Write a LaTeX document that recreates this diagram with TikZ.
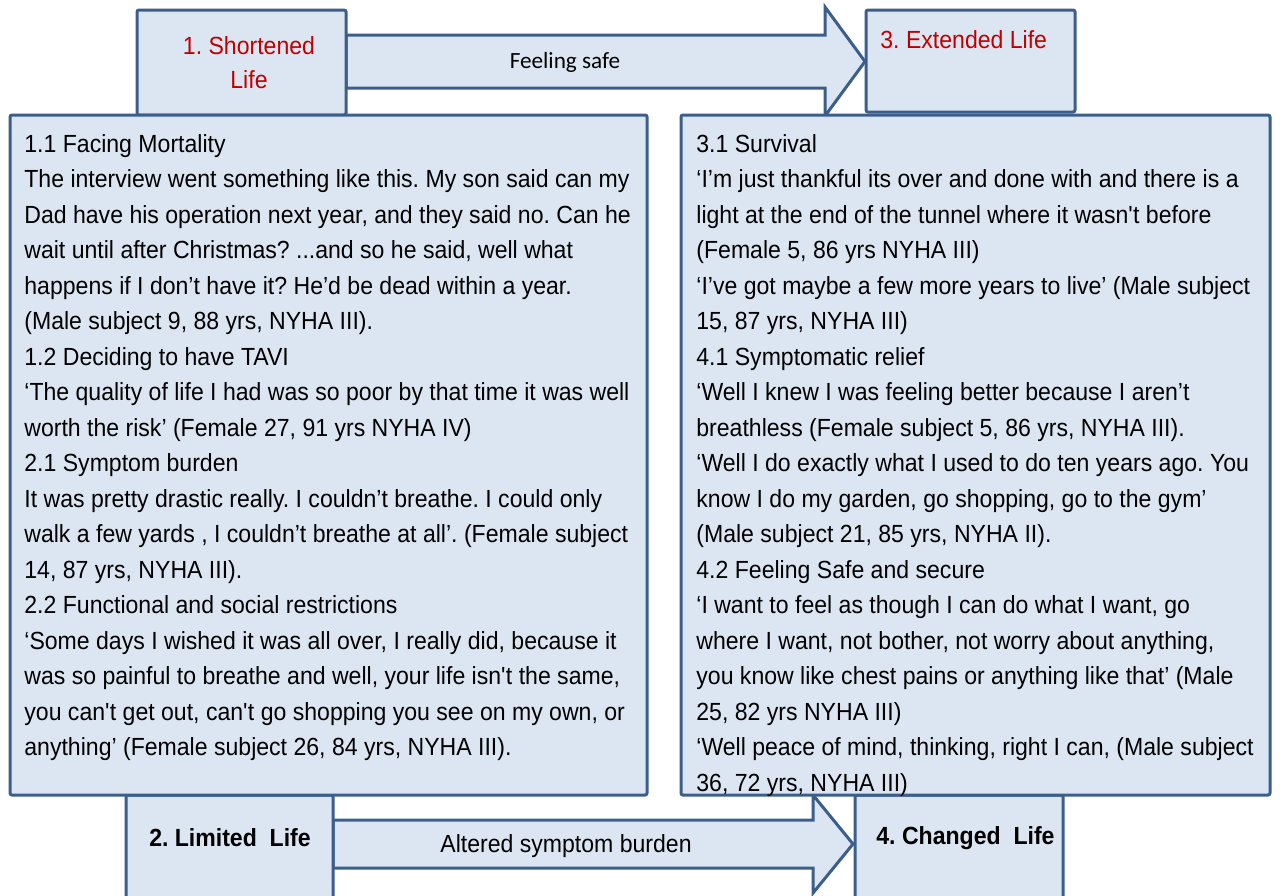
\documentclass[tikz,border=0pt]{standalone}
\usepackage{fontspec}
\setmainfont{Liberation Sans}
\newfontfamily\narrowsans[FakeStretch=0.93]{Liberation Sans}
\newfontfamily\calibrisans{Carlito}
\definecolor{boxfill}{HTML}{DCE6F2}
\definecolor{boxline}{HTML}{3B5E8C}
\definecolor{titlered}{HTML}{C00000}
\frenchspacing

\begin{document}
\begin{tikzpicture}[x=0.5pt, y=-0.5pt,
    panel/.style = {draw=boxline, fill=boxfill, line width=1.5pt, rounded corners=1pt},
    blockarrow/.style = {draw=boxline, fill=boxfill, line width=1.5pt, line join=miter},
    quote/.style = {anchor=north west, inner sep=0pt, align=left,
      font=\narrowsans\fontsize{12.4}{17.75}\selectfont},
    title/.style = {inner sep=0pt, align=center,
      font=\narrowsans\fontsize{12.4}{17}\selectfont}]
  \useasboundingbox (0,0) rectangle (1280,895);

  % block arrows first, boxes sit over their ends
  \coordinate (T0) at (346,35);
  \coordinate (T1) at (825,35);
  \coordinate (Ttip) at (865,61.5);
  \draw[blockarrow] (T0) -- (T1) -- (825,7) -- (Ttip) -- (825,116) -- (825,88) -- (346,88) -- cycle;

  \coordinate (B0) at (333,820);
  \coordinate (B1) at (813,820);
  \coordinate (Btip) at (853,844);
  \draw[blockarrow] (B0) -- (B1) -- (813,795) -- (Btip) -- (813,893) -- (813,868) -- (333,868) -- cycle;

  % small heading boxes
  \draw[panel] (137,10) rectangle (346,115);
  \draw[panel] (866,10) rectangle (1075,112);
  \draw[panel] (126,795) rectangle (333,905);
  \draw[panel] (855,795) rectangle (1063,905);

  % large quote boxes
  \draw[panel] (10,115) rectangle (647,795);
  \draw[panel] (681,115) rectangle (1270,795);

  \node[title, text=titlered] (short) at (249,63) {1. Shortened\\Life};
  \node[title, text=titlered, anchor=west] (ext) at (880,40) {3. Extended Life};
  \node[title, font=\narrowsans\bfseries\fontsize{12.4}{17}\selectfont] (lim) at (230,838) {2. Limited~~Life};
  \node[title, font=\narrowsans\bfseries\fontsize{12.4}{17}\selectfont, anchor=west] (chg) at (876,838) {4. Changed~~Life};
  \node[inner sep=0pt, font=\calibrisans\fontsize{11.6}{13}\selectfont] (safe) at (565,62) {Feeling safe};
  \node[title] (alt) at (566,846) {Altered symptom burden};

  \node[quote] (left) at (24,134) {1.1 Facing Mortality\\
The interview went something like this. My son said can my\\
Dad have his operation next year, and they said no. Can he\\
wait until after Christmas? ...and so he said, well what\\
happens if I don’t have it? He’d be dead within a year.\\
(Male subject 9, 88 yrs, NYHA III).\\
1.2 Deciding to have TAVI\\
‘The quality of life I had was so poor by that time it was well\\
worth the risk’ (Female 27, 91 yrs NYHA IV)\\
2.1 Symptom burden\\
It was pretty drastic really. I couldn’t breathe. I could only\\
walk a few yards , I couldn’t breathe at all’. (Female subject\\
14, 87 yrs, NYHA III).\\
2.2 Functional and social restrictions\\
‘Some days I wished it was all over, I really did, because it\\
was so painful to breathe and well, your life isn\textquotesingle t the same,\\
you can\textquotesingle t get out, can\textquotesingle t go shopping you see on my own, or\\
anything’ (Female subject 26, 84 yrs, NYHA III).};

  \node[quote] (right) at (696,134) {3.1 Survival\\
‘I’m just thankful its over and done with and there is a\\
light at the end of the tunnel where it wasn\textquotesingle t before\\
(Female 5, 86 yrs NYHA III)\\
‘I’ve got maybe a few more years to live’ (Male subject\\
15, 87 yrs, NYHA III)\\
4.1 Symptomatic relief\\
‘Well I knew I was feeling better because I aren’t\\
breathless (Female subject 5, 86 yrs, NYHA III).\\
‘Well I do exactly what I used to do ten years ago. You\\
know I do my garden, go shopping, go to the gym’\\
(Male subject 21, 85 yrs, NYHA II).\\
4.2 Feeling Safe and secure\\
‘I want to feel as though I can do what I want, go\\
where I want, not bother, not worry about anything,\\
you know like chest pains or anything like that’ (Male\\
25, 82 yrs NYHA III)\\
‘Well peace of mind, thinking, right I can, (Male subject\\
36, 72 yrs, NYHA III)};
\end{tikzpicture}
\end{document}
